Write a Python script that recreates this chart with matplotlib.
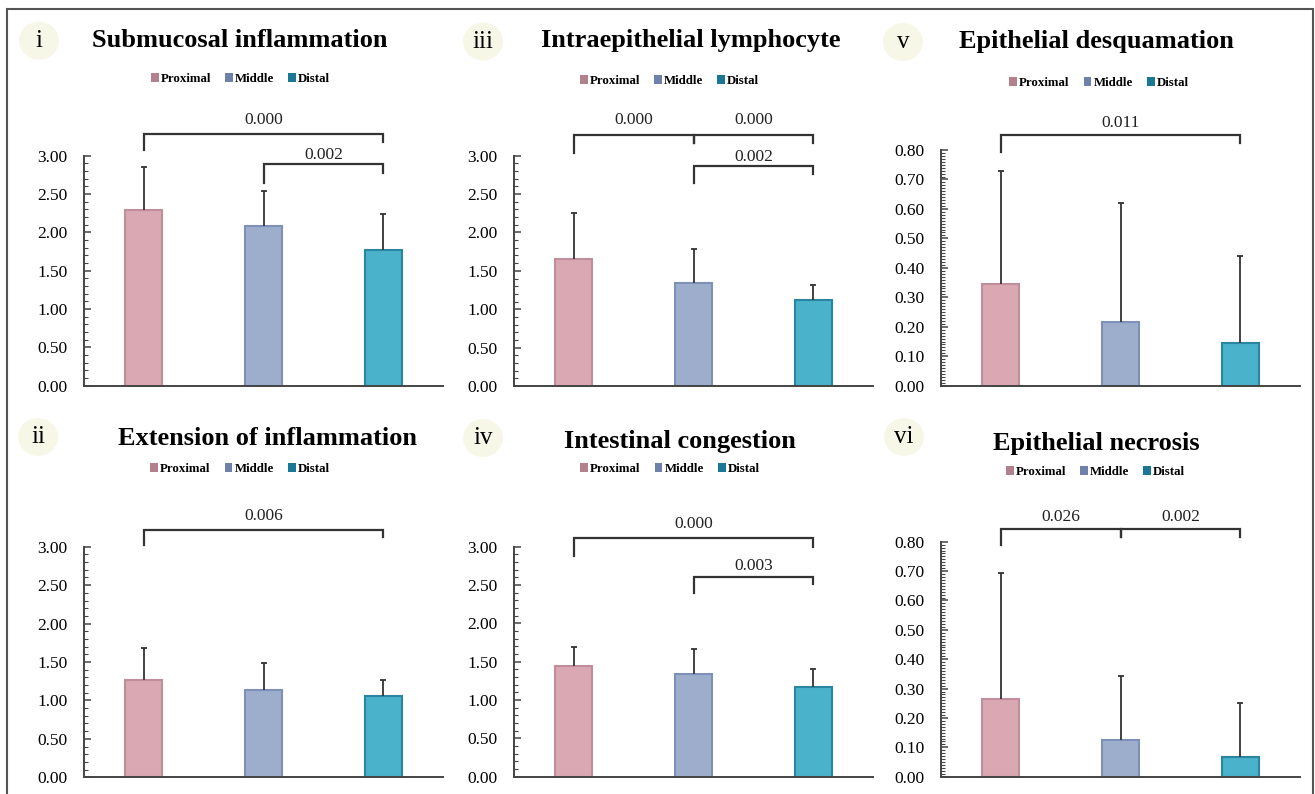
import matplotlib
matplotlib.use("Agg")
import matplotlib.pyplot as plt
from matplotlib.patches import Patch, Rectangle, Ellipse
from matplotlib.ticker import MultipleLocator, FormatStrFormatter

plt.rcParams["font.family"] = ["Liberation Serif", "DejaVu Serif"]

W, H = 1315, 794

groups = ["Proximal", "Middle", "Distal"]

# mean and SD
submucosal_mean = [2.29, 2.08, 1.77]
submucosal_sd = [0.56, 0.46, 0.47]
intraepithelial_mean = [1.65, 1.34, 1.12]
intraepithelial_sd = [0.60, 0.44, 0.20]
desquamation_mean = [0.345, 0.217, 0.146]
desquamation_sd = [0.385, 0.402, 0.294]
extension_mean = [1.26, 1.14, 1.06]
extension_sd = [0.42, 0.35, 0.21]
congestion_mean = [1.45, 1.34, 1.17]
congestion_sd = [0.24, 0.32, 0.24]
necrosis_mean = [0.265, 0.124, 0.067]
necrosis_sd = [0.429, 0.218, 0.183]

# p-value brackets: (from, to, bar height, left end, right end, text height, label)
submucosal_p = [(0, 2, 3.28, 3.07, 3.18, 3.46, "0.000"),
                (1, 2, 2.89, 2.65, 2.77, 3.01, "0.002")]
intraepithelial_p = [(0, 1, 3.27, 3.04, 3.16, 3.46, "0.000"),
                     (1, 2, 3.27, 3.16, 3.16, 3.46, "0.000"),
                     (1, 2, 2.86, 2.65, 2.76, 2.98, "0.002")]
desquamation_p = [(0, 2, 0.852, 0.794, 0.825, 0.89, "0.011")]
extension_p = [(0, 2, 3.22, 3.02, 3.13, 3.40, "0.006")]
congestion_p = [(0, 2, 3.11, 2.88, 2.99, 3.30, "0.000"),
                (1, 2, 2.61, 2.39, 2.51, 2.75, "0.003")]
necrosis_p = [(0, 1, 0.842, 0.789, 0.817, 0.885, "0.026"),
              (1, 2, 0.842, 0.817, 0.815, 0.885, "0.002")]

bar_colors = ["#D9A8B3", "#9DAECD", "#4AB2CB"]
edge_colors = ["#C08E9A", "#7F90B6", "#2A86A0"]
legend_colors = ["#B3808E", "#6F80AA", "#1B7894"]

fig = plt.figure(figsize=(W / 100, H / 100), dpi=100)

# outer frame
fig.patches.append(Rectangle((7 / W, -0.05), (1313 - 7) / W, 1.05 - 9 / H,
                             transform=fig.transFigure, fill=False,
                             edgecolor="#555555", linewidth=1.5))


def px_axes(left, right, top, bottom):
    return fig.add_axes([left / W, 1 - bottom / H, (right - left) / W, (bottom - top) / H])


def panel(box, mean, sd, brackets, ymax, title, numeral, title_xy, num_xy, leg_xy):
    ax = px_axes(*box)
    x = list(range(len(groups)))
    ax.bar(x, mean, width=0.31, color=bar_colors, edgecolor=edge_colors, linewidth=1.5,
           zorder=2)
    # upper error bars only
    tops = [m + s for m, s in zip(mean, sd)]
    ax.vlines(x, mean, tops, color="#333333", lw=1.3, zorder=3)
    ax.plot(x, tops, ls="none", marker="_", ms=4, mew=1.3, color="#333333", zorder=3)
    ax.set_xlim(-0.5, 2.5)
    ax.set_ylim(0, ymax)
    if ymax > 1:
        ax.yaxis.set_major_locator(MultipleLocator(0.5))
        ax.yaxis.set_minor_locator(MultipleLocator(0.1))
    else:
        ax.yaxis.set_major_locator(MultipleLocator(0.1))
        ax.yaxis.set_minor_locator(MultipleLocator(0.01))
    ax.yaxis.set_major_formatter(FormatStrFormatter("%.2f"))
    ax.set_xticks([])
    for s in ["top", "right"]:
        ax.spines[s].set_visible(False)
    for s in ["left", "bottom"]:
        ax.spines[s].set_color("#444444")
        ax.spines[s].set_linewidth(1.4)
    ax.tick_params(axis="y", which="major", direction="in", length=5, width=1.1,
                   color="#444444", labelsize=12.5, pad=12)
    ax.tick_params(axis="y", which="minor", direction="in", length=3, width=0.8,
                   color="#444444")

    for x1, x2, yb, yl, yr, yt, lab in brackets:
        ax.plot([x1, x1, x2, x2], [yl, yb, yb, yr], color="#333333", lw=1.6,
                clip_on=False, solid_joinstyle="miter")
        ax.text((x1 + x2) / 2, yt, lab, ha="center", va="center", fontsize=12.5,
                color="#222222", clip_on=False)

    fig.text(title_xy[0] / W, 1 - title_xy[1] / H, title, ha="center", va="baseline",
             fontsize=19, fontweight="bold")
    fig.patches.append(Ellipse((num_xy[0] / W, 1 - (num_xy[1] - 6) / H), 40 / W, 38 / H,
                               transform=fig.transFigure, facecolor="#F7F7E8",
                               edgecolor="none"))
    fig.text(num_xy[0] / W, 1 - num_xy[1] / H, numeral, ha="center", va="baseline",
             fontsize=18)

    handles = [Patch(facecolor=c, edgecolor="none") for c in legend_colors]
    fig.legend(handles, groups, loc="center", ncol=3, frameon=False,
               bbox_to_anchor=(leg_xy[0] / W, 1 - leg_xy[1] / H),
               prop=dict(family="Liberation Serif", weight="bold", size=9.3),
               handlelength=0.6, handleheight=0.6, handletextpad=0.15,
               columnspacing=1.1, borderpad=0)
    return ax


panel((84, 443, 155.7, 385.7), submucosal_mean, submucosal_sd, submucosal_p, 3.0,
      "Submucosal inflammation", "i", (240, 46.7), (39, 46.7), (240.5, 79))
panel((514, 873, 155.7, 386), intraepithelial_mean, intraepithelial_sd, intraepithelial_p, 3.0,
      "Intraepithelial lymphocyte", "iii", (691, 47.5), (483, 47.5), (669.5, 81))
panel((941, 1300, 150, 385.7), desquamation_mean, desquamation_sd, desquamation_p, 0.8,
      "Epithelial desquamation", "v", (1096, 48), (903, 48), (1099, 83))
panel((84, 443, 546.7, 777.3), extension_mean, extension_sd, extension_p, 3.0,
      "Extension of inflammation", "ii", (268, 445), (38, 443), (240, 469))
panel((514, 873, 546.7, 776.7), congestion_mean, congestion_sd, congestion_p, 3.0,
      "Intestinal congestion", "iv", (680, 448), (483, 444), (670, 469))
panel((941, 1300, 541.7, 776.7), necrosis_mean, necrosis_sd, necrosis_p, 0.8,
      "Epithelial necrosis", "vi", (1096, 450), (904, 443), (1095.5, 472))

fig.savefig("out.png", dpi=100)
